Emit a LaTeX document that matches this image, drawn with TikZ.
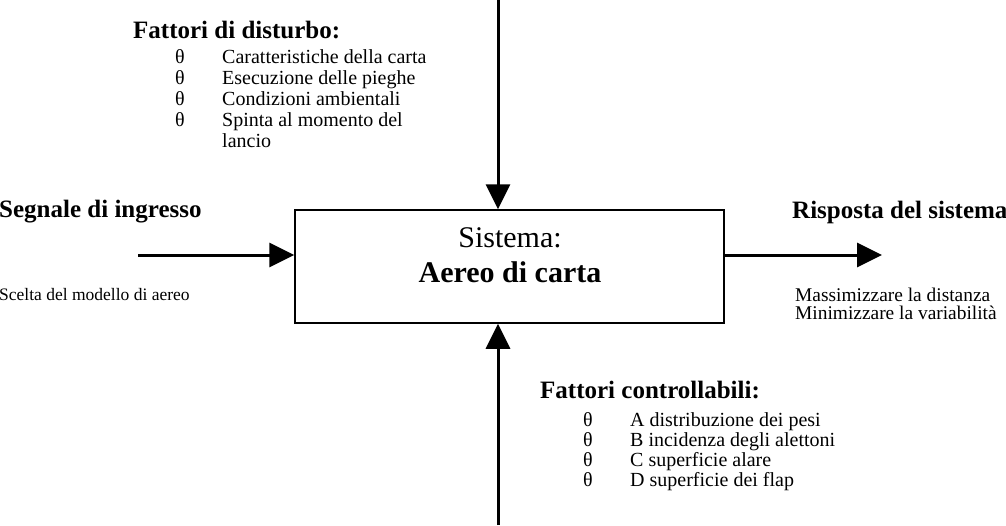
\documentclass[tikz,border=0pt]{standalone}
\usepackage{fontspec}
\setmainfont{Liberation Serif}
\usetikzlibrary{arrows.meta}
\begin{document}
\begin{tikzpicture}[x=1pt,y=-1pt,
  conn/.style={line width=3pt, -{Triangle[length=25pt,width=24pt]}},
  title/.style={anchor=base west, inner sep=0pt, font=\fontsize{25}{29}\selectfont\bfseries},
  small/.style={anchor=base west, inner sep=0pt, font=\fontsize{20}{23}\selectfont},
  bul/.style={anchor=base west, inner sep=0pt, font=\fontsize{20}{23}\selectfont},
  boxtxt/.style={anchor=base, inner sep=0pt, font=\fontsize{30}{34}\selectfont},
]
\useasboundingbox (0,0) rectangle (1006,525);
\node[draw, line width=1.5pt, minimum width=429pt, minimum height=113pt, inner sep=0pt] (sys) at (509.5,266.5) {};
\node[boxtxt] (s1) at (510,247) {Sistema:};
\node[boxtxt, font=\fontsize{30}{34}\selectfont\bfseries] (s2) at (510,282) {Aereo di carta};
% connectors
\coordinate (topin) at (498,0);
\coordinate (botin) at (498,525);
\coordinate (lin) at (138,255);
\coordinate (rout) at (882,255);
\draw[conn] (topin) -- (topin |- sys.north);
\draw[conn] (botin) -- (botin |- sys.south);
\draw[conn] (lin) -- (lin -| sys.west);
\draw[conn] (rout -| sys.east) -- (rout);
% disturbance factors
\node[title] (dt) at (133,38) {Fattori di disturbo:};
\node[bul] (d1b) at (175,63) {θ};
\node[small] (d1) at (222,63) {Caratteristiche della carta};
\node[bul] (d2b) at (175,84) {θ};
\node[small] (d2) at (222,84) {Esecuzione delle pieghe};
\node[bul] (d3b) at (175,105) {θ};
\node[small] (d3) at (222,105) {Condizioni ambientali};
\node[bul] (d4b) at (175,126) {θ};
\node[small] (d4) at (222,126) {Spinta al momento del};
\node[small] (d5) at (222,147) {lancio};
% input
\node[title] (in) at (-1,217) {Segnale di ingresso};
\node[small, font=\fontsize{17.5}{21}\selectfont] (inx) at (-1,300) {Scelta del modello di aereo};
% output
\node[title] (out) at (792,218) {Risposta del sistema};
\node[small, font=\fontsize{19.4}{23}\selectfont] (o1) at (795,301) {Massimizzare la distanza};
\node[small, font=\fontsize{19.4}{23}\selectfont] (o2) at (795,319) {Minimizzare la variabilità};
% controllable factors
\node[title] (ct) at (540,398) {Fattori controllabili:};
\node[bul] (c1b) at (583,426) {θ};
\node[small] (c1) at (630,426) {A distribuzione dei pesi};
\node[bul] (c2b) at (583,446) {θ};
\node[small] (c2) at (630,446) {B incidenza degli alettoni};
\node[bul] (c3b) at (583,466) {θ};
\node[small] (c3) at (630,466) {C superficie alare};
\node[bul] (c4b) at (583,486) {θ};
\node[small] (c4) at (630,486) {D superficie dei flap};
\end{tikzpicture}
\end{document}
